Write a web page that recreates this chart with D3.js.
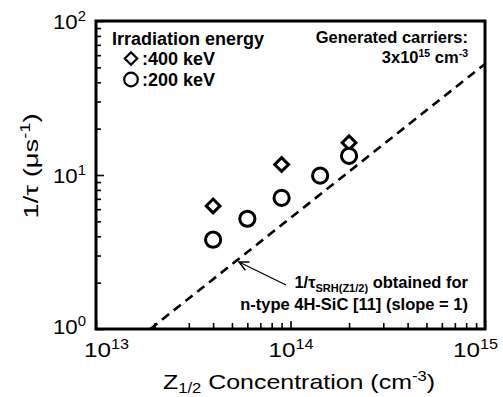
<!DOCTYPE html>
<html>
<head>
<meta charset="utf-8">
<script src="https://cdn.jsdelivr.net/npm/d3@7"></script>
<style>
  body { margin: 0; background: #fff; }
  text { font-family: "Liberation Sans", Arial, sans-serif; fill: #000; }
</style>
</head>
<body>
<svg id="chart" width="503" height="397"></svg>
<script>
// Recombination rate 1/τ vs Z1/2 concentration, per irradiation energy
const z12_400keV = [4.0e13, 9.0e13, 2.0e14];
const rate_400keV = [6.3, 11.7, 16.2];
const z12_200keV = [4.0e13, 6.0e13, 9.0e13, 1.42e14, 2.0e14];
const rate_200keV = [3.8, 5.2, 7.1, 9.9, 13.3];

// SRH reference line (slope = 1): 1/τ = N / srhDivisor
const srhDivisor = 1.9e13;
const srhRange = [1.9e13, 1e15];

const xDomain = [1e13, 1e15];
const yDomain = [1, 100];
const xDecades = [13, 14, 15];
const yDecades = [0, 1, 2];

const legendTitle = "Irradiation energy";
const legendLabels = [":400 keV", ":200 keV"];
const carrierTitle = "Generated carriers:";
const noteLines = ["obtained for", "n-type 4H-SiC [11] (slope = 1)"];

const W = 503, H = 397;
const margin = { left: 96, top: 21, right: 18, bottom: 68 };
const pw = W - margin.left - margin.right;
const ph = H - margin.top - margin.bottom;

const svg = d3.select("#chart");
const g = svg.append("g").attr("transform", `translate(${margin.left},${margin.top})`);

const x = d3.scaleLog().domain(xDomain).range([0, pw]);
const y = d3.scaleLog().domain(yDomain).range([ph, 0]);

// minor + major tick values per decade
function logTicks(decs) {
  const out = [];
  for (let i = 0; i < decs.length; i++) {
    const base = Math.pow(10, decs[i]);
    out.push(base);
    if (i < decs.length - 1) for (let m = 2; m <= 9; m++) out.push(m * base);
  }
  return out;
}
const isMajor = v => Math.abs(Math.log10(v) - Math.round(Math.log10(v))) < 1e-9;

// x axis (ticks pointing inward)
const xAxisG = g.append("g").attr("transform", `translate(0,${ph})`)
  .call(d3.axisBottom(x).tickValues(logTicks(xDecades)).tickSizeInner(-6).tickSizeOuter(0).tickFormat(""));
xAxisG.select(".domain").remove();
xAxisG.selectAll(".tick line").attr("y2", d => isMajor(d) ? -8 : -6).attr("stroke-width", 1.6);

// y axis (ticks pointing inward)
const yAxisG = g.append("g")
  .call(d3.axisLeft(y).tickValues(logTicks(yDecades)).tickSizeInner(-5).tickSizeOuter(0).tickFormat(""));
yAxisG.select(".domain").remove();
yAxisG.selectAll(".tick line").attr("x2", d => isMajor(d) ? 8 : 5).attr("stroke-width", 1.6);

// power-of-ten tick labels
function powLabel(sel, exp, size, supSize, supDy) {
  sel.append("tspan").text("10").attr("font-size", size);
  sel.append("tspan").text(exp).attr("font-size", supSize).attr("dy", supDy);
}
xAxisG.selectAll(".tick").filter(d => isMajor(d)).each(function (d, i, nodes) {
  const t = d3.select(this).select("text");
  t.attr("y", 28).attr("dy", null).attr("text-anchor", "middle")
   .attr("x", i === 0 ? 10 : (i === nodes.length - 1 ? -10 : 0))
   .attr("textLength", 45).attr("lengthAdjust", "spacingAndGlyphs");
  powLabel(t, Math.round(Math.log10(d)), 21, 14, -8);
});
yAxisG.selectAll(".tick").filter(d => isMajor(d)).each(function (d, i) {
  const t = d3.select(this).select("text");
  t.attr("x", -10).attr("dy", null).attr("y", i === 0 ? 4 : 7).attr("text-anchor", "end")
   .attr("textLength", 33).attr("lengthAdjust", "spacingAndGlyphs");
  powLabel(t, Math.round(Math.log10(d)), 21, 14, -8);
});

// SRH dashed reference line
const srhLine = d3.line().x(d => x(d)).y(d => y(d / srhDivisor));
g.append("path").datum(srhRange).attr("d", srhLine)
  .attr("fill", "none").attr("stroke", "#000").attr("stroke-width", 2.6)
  .attr("stroke-dasharray", "9,6");

// data markers
const diamond = d3.symbol().type(d3.symbolDiamond2).size(120);
g.selectAll(".d400").data(z12_400keV.map((v, i) => [v, rate_400keV[i]])).join("path")
  .attr("transform", d => `translate(${x(d[0])},${y(d[1])})`)
  .attr("d", diamond).attr("fill", "#fff").attr("stroke", "#000").attr("stroke-width", 3);
g.selectAll(".c200").data(z12_200keV.map((v, i) => [v, rate_200keV[i]])).join("circle")
  .attr("cx", d => x(d[0])).attr("cy", d => y(d[1])).attr("r", 7.6)
  .attr("fill", "#fff").attr("stroke", "#000").attr("stroke-width", 3);

// frame
g.append("rect").attr("width", pw).attr("height", ph)
  .attr("fill", "none").attr("stroke", "#000").attr("stroke-width", 3);

// legend
svg.append("text").attr("x", 112).attr("y", 45).attr("font-size", 18).attr("font-weight", "bold").text(legendTitle);
svg.append("path").attr("transform", "translate(131,58.5)")
  .attr("d", d3.symbol().type(d3.symbolDiamond2).size(98))
  .attr("fill", "none").attr("stroke", "#000").attr("stroke-width", 2.2);
svg.append("circle").attr("cx", 131).attr("cy", 79.5).attr("r", 6.8)
  .attr("fill", "none").attr("stroke", "#000").attr("stroke-width", 2.2);
legendLabels.forEach((s, i) => {
  svg.append("text").attr("x", 142).attr("y", 65 + i * 20.5).attr("font-size", 18)
    .attr("font-weight", "bold").text(s);
});

// generated carriers note
svg.append("text").attr("x", 468).attr("y", 43).attr("text-anchor", "end")
  .attr("font-size", 16.5).attr("font-weight", "bold").text(carrierTitle);
const gc = svg.append("text").attr("x", 468).attr("y", 63).attr("text-anchor", "end")
  .attr("font-size", 16.5).attr("font-weight", "bold");
gc.append("tspan").text("3x10");
gc.append("tspan").text("15").attr("font-size", 10.5).attr("dy", -6);
gc.append("tspan").text(" cm").attr("dy", 6);
gc.append("tspan").text("-3").attr("font-size", 10.5).attr("dy", -6);

// SRH annotation with arrow
const n1 = svg.append("text").attr("x", 468).attr("y", 288).attr("text-anchor", "end")
  .attr("font-size", 16.5).attr("font-weight", "bold");
n1.append("tspan").text("1/τ");
n1.append("tspan").text("SRH(Z1/2)").attr("font-size", 11).attr("dy", 4);
n1.append("tspan").text(" " + noteLines[0]).attr("dy", -4);
svg.append("text").attr("x", 468).attr("y", 310).attr("text-anchor", "end")
  .attr("font-size", 16.5).attr("font-weight", "bold").text(noteLines[1]);

svg.append("defs").append("marker").attr("id", "arrowhead")
  .attr("viewBox", "0 0 10 10").attr("refX", 9).attr("refY", 5)
  .attr("markerWidth", 9).attr("markerHeight", 9).attr("orient", "auto")
  .append("path").attr("d", "M1,1 L9,5 L1,9").attr("fill", "none").attr("stroke", "#000").attr("stroke-width", 1.3);
svg.append("line").attr("x1", 286).attr("y1", 285).attr("x2", 239).attr("y2", 262)
  .attr("stroke", "#000").attr("stroke-width", 1.3).attr("marker-end", "url(#arrowhead)");

// axis titles
const xt = svg.append("text").attr("x", 299).attr("y", 389).attr("text-anchor", "middle")
  .attr("font-size", 21).attr("textLength", 272).attr("lengthAdjust", "spacingAndGlyphs");
xt.append("tspan").text("Z");
xt.append("tspan").text("1/2").attr("font-size", 14).attr("dy", 4);
xt.append("tspan").text(" Concentration (cm").attr("dy", -4);
xt.append("tspan").text("-3").attr("font-size", 14).attr("dy", -8);
xt.append("tspan").text(")").attr("dy", 8);

const yt = svg.append("text").attr("transform", "translate(38,166) rotate(-90)")
  .attr("text-anchor", "middle").attr("font-size", 21)
  .attr("textLength", 105).attr("lengthAdjust", "spacingAndGlyphs");
yt.append("tspan").text("1/τ (μs");
yt.append("tspan").text("-1").attr("font-size", 14).attr("dy", -8);
yt.append("tspan").text(")").attr("dy", 8);
</script>
</body>
</html>
